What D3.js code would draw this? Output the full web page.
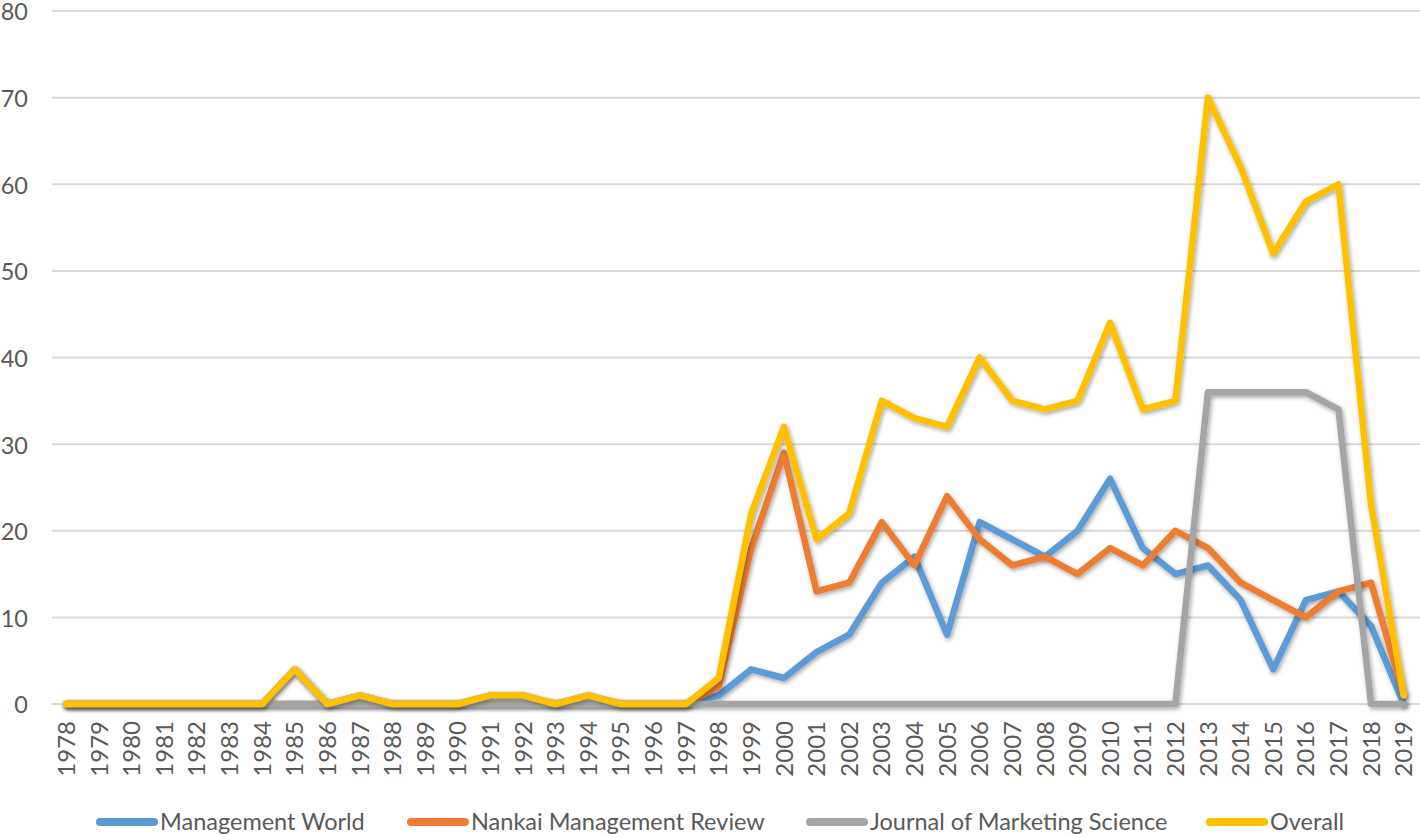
<!DOCTYPE html>
<html><head><meta charset="utf-8">
<script src="https://cdn.jsdelivr.net/npm/d3@7"></script>
<style>html,body{margin:0;padding:0;background:#fff;}svg{display:block;}</style>
</head><body>
<svg id="c" width="1420" height="835"></svg>
<script>
const years = d3.range(1978, 2020).map(String);
const seriesNames = ["Management World","Nankai Management Review","Journal of Marketing Science","Overall"];
const colors = ["#5B9BD5","#ED7D31","#A5A5A5","#FFC000"];
const managementWorld = [0,0,0,0,0,0,0,4,0,1,0,0,0,1,1,0,1,0,0,0,1,4,3,6,8,14,17,8,21,19,17,20,26,18,15,16,12,4,12,13,9,0];
const nankai =          [0,0,0,0,0,0,0,0,0,0,0,0,0,0,0,0,0,0,0,0,2,18,29,13,14,21,16,24,19,16,17,15,18,16,20,18,14,12,10,13,14,1];
const marketing =       [0,0,0,0,0,0,0,0,0,0,0,0,0,0,0,0,0,0,0,0,0,0,0,0,0,0,0,0,0,0,0,0,0,0,0,36,36,36,36,34,0,0];
const overall =         [0,0,0,0,0,0,0,4,0,1,0,0,0,1,1,0,1,0,0,0,3,22,32,19,22,35,33,32,40,35,34,35,44,34,35,70,62,52,58,60,23,1];
const yTicks = [0,10,20,30,40,50,60,70,80];
const allSeries = [managementWorld, nankai, marketing, overall];

const FONT = "Lato, 'Open Sans', sans-serif";
const svg = d3.select("#c");
const defs = svg.append("defs");
const f = defs.append("filter").attr("id","sh").attr("x","-10%").attr("y","-10%").attr("width","120%").attr("height","120%");
f.append("feDropShadow").attr("dx",1.5).attr("dy",2).attr("stdDeviation",2).attr("flood-color","#000").attr("flood-opacity",0.35);

const x = d3.scalePoint().domain(years).range([50, 1420]).padding(0.5);
const y = d3.scaleLinear().domain([0,80]).range([704, 11]);

// gridlines
svg.append("g").selectAll("line").data(yTicks).join("line")
  .attr("x1", 52).attr("x2", 1420)
  .attr("y1", d => y(d)).attr("y2", d => y(d))
  .attr("stroke", "#d9d9d9").attr("stroke-width", 2);

// y labels
svg.append("g").selectAll("text").data(yTicks).join("text")
  .attr("x", 28).attr("y", d => y(d) + 1).attr("dy","0.36em")
  .attr("text-anchor","end")
  .style("font-family",FONT).style("font-size","23.5px").attr("fill","#595959")
  .text(d => d);

// x labels
svg.append("g").selectAll("text").data(years).join("text")
  .attr("transform", d => `translate(${x(d)},721) rotate(-90)`)
  .attr("dy","0.36em").attr("text-anchor","end")
  .style("font-family",FONT).style("font-size","24px").attr("fill","#595959")
  .text(d => d);

const line = d3.line().x((d,i) => x(years[i])).y(d => y(d)).curve(d3.curveLinear);
svg.append("g").selectAll("path").data(allSeries).join("path")
  .attr("d", d => line(d))
  .attr("fill","none")
  .attr("stroke", (d,i) => colors[i])
  .attr("stroke-width", 6.5)
  .attr("stroke-linejoin","round")
  .attr("stroke-linecap","round")
  .attr("filter","url(#sh)");

// legend
const legendX = [97, 408, 807, 1207];
const lg = svg.append("g").selectAll("g").data(seriesNames).join("g")
  .attr("transform", (d,i) => `translate(${legendX[i]},822)`);
lg.append("line").attr("x1",3).attr("x2",57).attr("y1",0).attr("y2",0)
  .attr("stroke",(d,i)=>colors[i]).attr("stroke-width",8).attr("stroke-linecap","round");
lg.append("text").attr("x",63).attr("y",0).attr("dy","0.36em")
  .style("font-family",FONT).style("font-size","23.5px").attr("fill","#595959")
  .text(d => d);
</script>
</body></html>
